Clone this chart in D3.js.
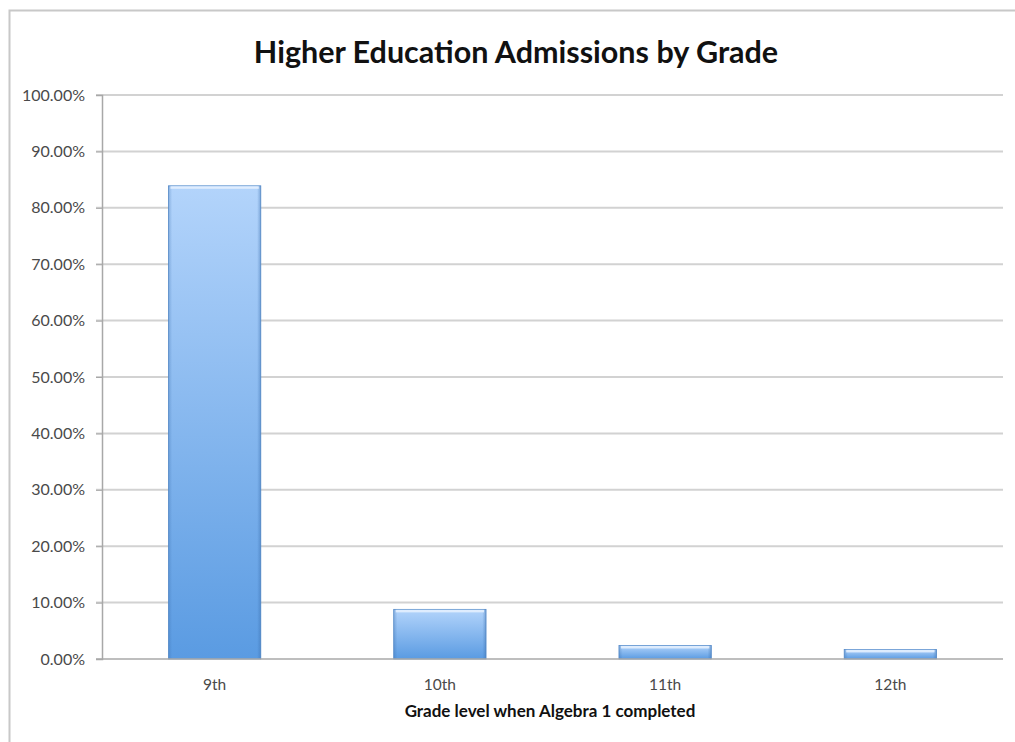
<!DOCTYPE html>
<html><head><meta charset="utf-8">
<script src="https://cdn.jsdelivr.net/npm/d3@7"></script>
<style>body{margin:0;background:#fff;} svg{display:block;}</style>
</head><body>
<svg id="c" width="1015" height="742"></svg>
<script>
const categories = ["9th", "10th", "11th", "12th"];
const values = [0.839, 0.088, 0.024, 0.017];
const yTicks = [0, 0.1, 0.2, 0.3, 0.4, 0.5, 0.6, 0.7, 0.8, 0.9, 1.0];
const title = "Higher Education Admissions by Grade";
const xTitle = "Grade level when Algebra 1 completed";

const svg = d3.select("#c");
const font = "Lato, 'Open Sans', sans-serif";
const m = {left: 102, right: 1003, top: 95, bottom: 659};

// outer border
svg.append("path").attr("d", "M9.5,742 L9.5,10.5 L1015,10.5")
  .attr("fill", "none").attr("stroke", "#c8c8c8").attr("stroke-width", 2);

const defs = svg.append("defs");
const g1 = defs.append("linearGradient").attr("id", "gv").attr("x1", 0).attr("y1", 0).attr("x2", 0).attr("y2", 1);
g1.append("stop").attr("offset", "0%").attr("stop-color", "#b3d4fb");
g1.append("stop").attr("offset", "100%").attr("stop-color", "#5a9be2");
const g2 = defs.append("linearGradient").attr("id", "gh").attr("x1", 0).attr("y1", 0).attr("x2", 1).attr("y2", 0);
g2.append("stop").attr("offset", "0%").attr("stop-color", "#3b6fae").attr("stop-opacity", 0.35);
g2.append("stop").attr("offset", "4%").attr("stop-color", "#3b6fae").attr("stop-opacity", 0);
g2.append("stop").attr("offset", "96%").attr("stop-color", "#3b6fae").attr("stop-opacity", 0);
g2.append("stop").attr("offset", "100%").attr("stop-color", "#3b6fae").attr("stop-opacity", 0.45);

const x = d3.scaleBand().domain(categories).range([m.left, m.right]).paddingInner(0.59).paddingOuter(0.295);
const y = d3.scaleLinear().domain([0, 1]).range([m.bottom, m.top]);

// gridlines
svg.append("g").selectAll("line").data(yTicks.filter(d => d > 0)).join("line")
  .attr("x1", m.left - 6).attr("x2", m.right)
  .attr("y1", d => y(d)).attr("y2", d => y(d))
  .attr("stroke", "#d2d2d2").attr("stroke-width", 2);

// y axis
const yAxis = d3.axisLeft(y).tickValues(yTicks).tickFormat(d3.format(".2%")).tickSize(6).tickPadding(11);
const ya = svg.append("g").attr("transform", `translate(${m.left},0)`).call(yAxis);
ya.select(".domain").attr("stroke", "#a8a8a8").attr("stroke-width", 1.5);
ya.selectAll(".tick line").attr("stroke", "#a8a8a8");
ya.selectAll("text").attr("font-family", font).attr("font-size", 16).attr("fill", "#4a4a4a");

// bars
const bars = svg.append("g").selectAll("g").data(categories).join("g");
bars.append("rect")
  .attr("x", d => x(d)).attr("width", x.bandwidth())
  .attr("y", (d, i) => y(values[i])).attr("height", (d, i) => y(0) - y(values[i]))
  .attr("fill", "url(#gv)").attr("stroke", "#5b8fcc").attr("stroke-width", 0.8);
bars.append("rect")
  .attr("x", d => x(d)).attr("width", x.bandwidth())
  .attr("y", (d, i) => y(values[i])).attr("height", (d, i) => y(0) - y(values[i]))
  .attr("fill", "url(#gh)");
bars.append("rect")
  .attr("x", d => x(d) + 2).attr("width", x.bandwidth() - 4)
  .attr("y", (d, i) => y(values[i]) + 0.5).attr("height", 2.5)
  .attr("fill", "#e6f1fe").attr("opacity", 0.85);

// x axis
const xAxis = d3.axisBottom(x).tickSize(0).tickPadding(20);
const xa = svg.append("g").attr("transform", `translate(0,${m.bottom})`).call(xAxis);
xa.select(".domain").attr("stroke", "#a8a8a8").attr("stroke-width", 1.5).attr("d", `M${m.left - 6},0H${m.right}`);
xa.selectAll("text").attr("font-family", font).attr("font-size", 15.5).attr("fill", "#4a4a4a");

// titles
svg.append("text").attr("x", 516).attr("y", 63).attr("text-anchor", "middle")
  .attr("font-family", font).attr("font-weight", "bold").attr("font-size", 30.5).attr("fill", "#111")
  .text(title);
svg.append("text").attr("x", 550).attr("y", 717).attr("text-anchor", "middle")
  .attr("font-family", font).attr("font-weight", "bold").attr("font-size", 17).attr("fill", "#111")
  .text(xTitle);
</script>
</body></html>
